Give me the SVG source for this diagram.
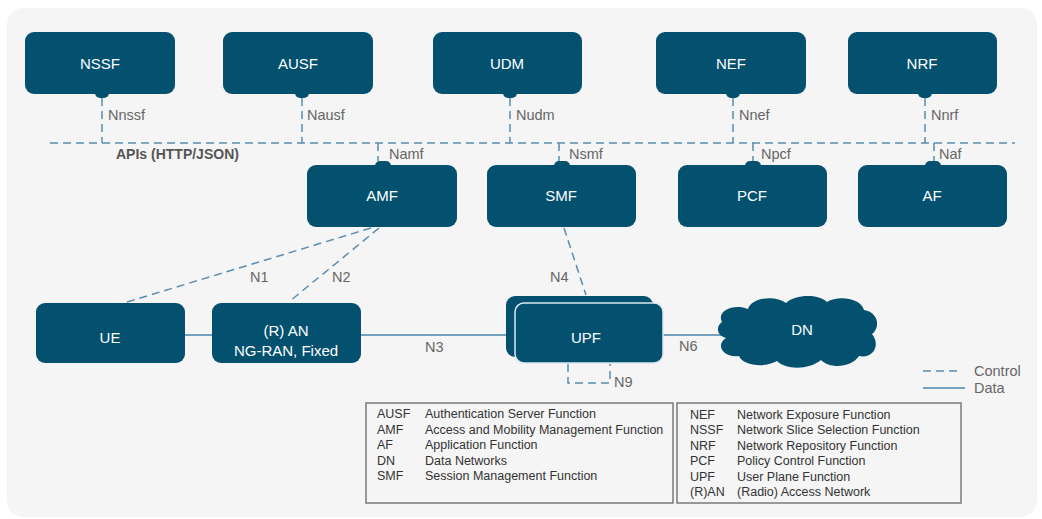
<svg xmlns="http://www.w3.org/2000/svg" width="1042" height="519" viewBox="0 0 1042 519">
<style>
.node{fill:#03506f}
.lbl{fill:#ffffff;font-family:"Liberation Sans",Arial,sans-serif;font-size:15px;text-anchor:middle}
.ctl{stroke:#5a8db0;stroke-width:1.5;fill:none;stroke-dasharray:8 5}
.dat{stroke:#4a86ab;stroke-width:1.5;fill:none}
.if{fill:#666;font-family:"Liberation Sans",Arial,sans-serif;font-size:14.5px}
.leg{fill:#333;font-family:"Liberation Sans",Arial,sans-serif;font-size:12.5px}
.box{fill:none;stroke:#7a7a7a;stroke-width:1.5}
</style>
<rect x="0" y="0" width="1042" height="519" fill="#ffffff"/>
<rect x="7" y="8" width="1030" height="509" rx="16" fill="#f5f5f5"/>

<g id="connectors">
  <line class="ctl" x1="50" y1="143" x2="1015" y2="143"/>
  <line class="ctl" x1="102" y1="98" x2="102" y2="143"/>
  <line class="ctl" x1="302" y1="98" x2="302" y2="143"/>
  <line class="ctl" x1="510" y1="98" x2="510" y2="143"/>
  <line class="ctl" x1="733" y1="98" x2="733" y2="143"/>
  <line class="ctl" x1="925" y1="98" x2="925" y2="143"/>
  <line class="ctl" x1="378" y1="143" x2="378" y2="161" stroke-dasharray="4 4"/>
  <line class="ctl" x1="559" y1="143" x2="559" y2="161" stroke-dasharray="4 4"/>
  <line class="ctl" x1="753" y1="143" x2="753" y2="161" stroke-dasharray="4 4"/>
  <line class="ctl" x1="934" y1="143" x2="934" y2="161" stroke-dasharray="4 4"/>
  <line class="ctl" x1="371" y1="228" x2="127" y2="302"/>
  <line class="ctl" x1="379" y1="228" x2="290" y2="301"/>
  <line class="ctl" x1="564" y1="228" x2="586" y2="295"/>
  <polyline class="ctl" points="568,364 568,383 610,383 610,364" stroke-dasharray="6 4"/>
  <line class="dat" x1="185" y1="335" x2="212" y2="335"/>
  <line class="dat" x1="361" y1="335" x2="506" y2="335"/>
  <line class="dat" x1="663" y1="335" x2="724" y2="335"/>
  <text class="if" x="108" y="120">Nnssf</text>
  <text class="if" x="307" y="120">Nausf</text>
  <text class="if" x="516" y="120">Nudm</text>
  <text class="if" x="739" y="120">Nnef</text>
  <text class="if" x="931" y="120">Nnrf</text>
  <text class="if" x="389" y="159">Namf</text>
  <text class="if" x="569" y="159">Nsmf</text>
  <text class="if" x="761" y="159">Npcf</text>
  <text class="if" x="939" y="159">Naf</text>
  <text class="if" x="250" y="282">N1</text>
  <text class="if" x="332" y="282">N2</text>
  <text class="if" x="425" y="352">N3</text>
  <text class="if" x="550" y="282">N4</text>
  <text class="if" x="679" y="351">N6</text>
  <text class="if" x="614" y="387">N9</text>
</g>

<text x="116" y="159" fill="#555" font-family="'Liberation Sans',Arial,sans-serif" font-size="14px" font-weight="bold">APIs (HTTP/JSON)</text>

<g id="nssf"><rect class="node" x="25" y="32" width="150" height="62" rx="9"/><rect class="node" x="95" y="88" width="14" height="10" rx="5"/><text class="lbl" x="100" y="69">NSSF</text></g>
<g id="ausf"><rect class="node" x="223" y="32" width="150" height="62" rx="9"/><rect class="node" x="295" y="88" width="14" height="10" rx="5"/><text class="lbl" x="298" y="69">AUSF</text></g>
<g id="udm"><rect class="node" x="433" y="32" width="149" height="62" rx="9"/><rect class="node" x="503" y="88" width="14" height="10" rx="5"/><text class="lbl" x="507" y="69">UDM</text></g>
<g id="nef"><rect class="node" x="656" y="32" width="150" height="62" rx="9"/><rect class="node" x="726" y="88" width="14" height="10" rx="5"/><text class="lbl" x="731" y="69">NEF</text></g>
<g id="nrf"><rect class="node" x="848" y="32" width="149" height="62" rx="9"/><rect class="node" x="918" y="88" width="14" height="10" rx="5"/><text class="lbl" x="922" y="69">NRF</text></g>

<g id="amf"><rect class="node" x="307" y="165" width="150" height="62" rx="9"/><rect class="node" x="375" y="161" width="16" height="10" rx="5"/><text class="lbl" x="382" y="201">AMF</text></g>
<g id="smf"><rect class="node" x="487" y="165" width="149" height="62" rx="9"/><rect class="node" x="554" y="161" width="16" height="10" rx="5"/><text class="lbl" x="561" y="201">SMF</text></g>
<g id="pcf"><rect class="node" x="678" y="165" width="149" height="62" rx="9"/><rect class="node" x="745" y="161" width="16" height="10" rx="5"/><text class="lbl" x="752" y="201">PCF</text></g>
<g id="af"><rect class="node" x="858" y="165" width="149" height="62" rx="9"/><rect class="node" x="925" y="161" width="16" height="10" rx="5"/><text class="lbl" x="932" y="201">AF</text></g>

<g id="ue"><rect class="node" x="36" y="303" width="149" height="60" rx="9"/><text class="lbl" x="110" y="343">UE</text></g>
<g id="ran"><rect class="node" x="212" y="303" width="149" height="60" rx="9"/><text class="lbl" x="286" y="336">(R) AN</text><text class="lbl" x="286" y="356">NG-RAN, Fixed</text></g>
<g id="upf"><rect class="node" x="506" y="296" width="147" height="61" rx="9"/><rect class="node" x="515" y="303" width="148" height="60" rx="9" stroke="#dde7ee" stroke-width="1.5"/><text class="lbl" x="586" y="343">UPF</text></g>
<g id="dn"><path class="node" d="M722 322 C716 311 734 303 748 309 C752 297 776 295 786 303 C796 294 818 294 827 302 C838 295 861 298 864 310 C878 312 881 327 872 334 C881 345 873 359 859 356 C851 368 830 369 821 360 C809 370 786 370 777 361 C765 368 743 366 739 356 C723 358 715 345 726 338 C716 335 716 326 722 322 Z"/><text class="lbl" x="802" y="335">DN</text></g>

<g id="legend">
  <line class="ctl" x1="923" y1="371" x2="962" y2="371"/>
  <line class="dat" x1="923" y1="388" x2="965" y2="388"/>
  <text class="if" x="974" y="376">Control</text>
  <text class="if" x="974" y="393">Data</text>
</g>

<g id="abbrev1">
  <rect class="box" x="366" y="403" width="307" height="100"/>
  <text class="leg" x="377" y="418">AUSF</text><text class="leg" x="425" y="418">Authentication Server Function</text>
  <text class="leg" x="377" y="433.5">AMF</text><text class="leg" x="425" y="433.5">Access and Mobility Management Function</text>
  <text class="leg" x="377" y="449">AF</text><text class="leg" x="425" y="449">Application Function</text>
  <text class="leg" x="377" y="464.5">DN</text><text class="leg" x="425" y="464.5">Data Networks</text>
  <text class="leg" x="377" y="480">SMF</text><text class="leg" x="425" y="480">Session Management Function</text>
</g>
<g id="abbrev2">
  <rect class="box" x="677" y="403" width="284" height="100"/>
  <text class="leg" x="690" y="418.5">NEF</text><text class="leg" x="737" y="418.5">Network Exposure Function</text>
  <text class="leg" x="690" y="434">NSSF</text><text class="leg" x="737" y="434">Network Slice Selection Function</text>
  <text class="leg" x="690" y="449.5">NRF</text><text class="leg" x="737" y="449.5">Network Repository Function</text>
  <text class="leg" x="690" y="465">PCF</text><text class="leg" x="737" y="465">Policy Control Function</text>
  <text class="leg" x="690" y="480.5">UPF</text><text class="leg" x="737" y="480.5">User Plane Function</text>
  <text class="leg" x="690" y="496">(R)AN</text><text class="leg" x="737" y="496">(Radio) Access Network</text>
</g>
</svg>
